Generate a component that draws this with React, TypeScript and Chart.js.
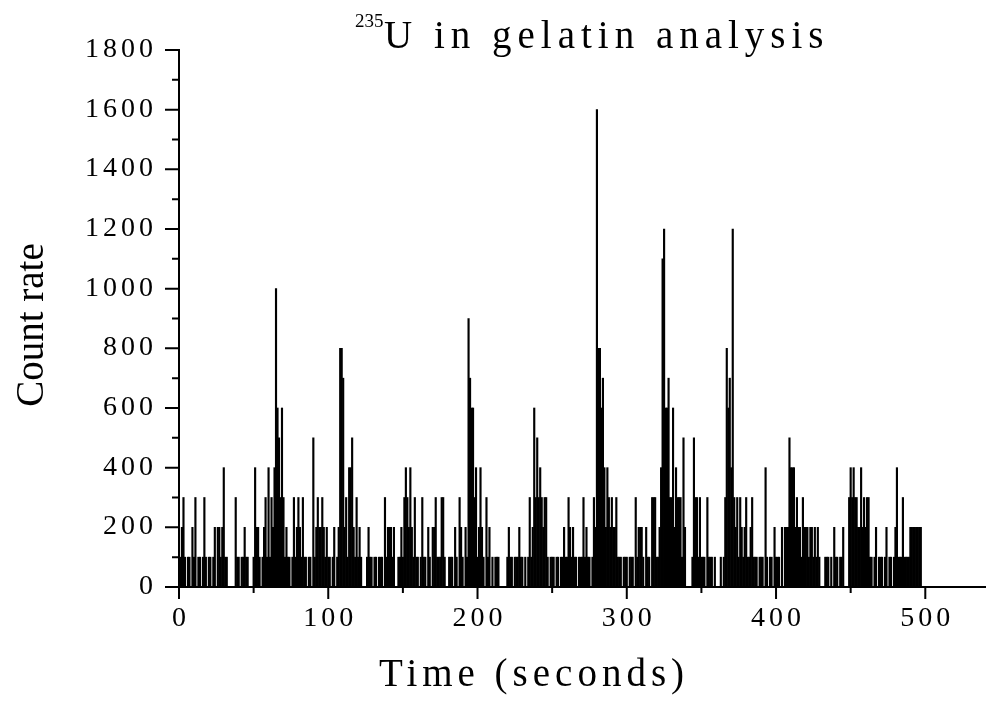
import React, { useEffect, useRef } from 'react';
import { Chart, registerables } from 'chart.js';

Chart.register(...registerables);

// Count rate per second, t = 0 .. 99 s
const rate000 = [
  200, 100, 200, 300, 100, 0, 100, 100, 0, 200,
  100, 300, 0, 100, 100, 0, 100, 300, 100, 0,
  100, 100, 0, 100, 200, 0, 200, 200, 100, 200,
  400, 100, 100, 0, 0, 0, 0, 0, 300, 100,
  100, 0, 100, 100, 200, 100, 100, 0, 0, 0,
  100, 400, 200, 200, 100, 0, 100, 200, 300, 100,
  400, 100, 300, 200, 400, 1000, 600, 500, 300, 600,
  300, 100, 200, 100, 100, 0, 100, 300, 100, 200,
  300, 200, 100, 300, 100, 100, 0, 100, 100, 0,
  500, 100, 200, 300, 200, 200, 300, 200, 100, 200,
];
// t = 100 .. 199 s
const rate100 = [
  100, 100, 0, 100, 200, 0, 100, 200, 800, 800,
  700, 200, 300, 100, 400, 400, 500, 200, 100, 300,
  100, 200, 100, 0, 0, 0, 100, 200, 100, 100,
  0, 100, 100, 0, 100, 100, 100, 0, 300, 100,
  200, 200, 200, 100, 200, 0, 0, 100, 100, 200,
  100, 300, 400, 300, 200, 400, 200, 100, 300, 100,
  100, 0, 100, 300, 100, 100, 0, 200, 100, 0,
  200, 200, 300, 100, 100, 100, 300, 300, 100, 0,
  0, 100, 100, 100, 0, 200, 100, 0, 300, 200,
  100, 0, 200, 100, 900, 700, 600, 600, 300, 400,
];
// t = 200 .. 299 s
const rate200 = [
  100, 200, 400, 200, 100, 0, 300, 100, 200, 0,
  100, 0, 100, 100, 100, 0, 0, 0, 0, 0,
  100, 200, 100, 100, 0, 100, 100, 100, 200, 100,
  100, 0, 100, 0, 100, 300, 100, 200, 600, 300,
  500, 300, 400, 300, 200, 300, 300, 100, 0, 100,
  100, 100, 0, 100, 100, 0, 100, 100, 200, 100,
  100, 300, 200, 100, 200, 100, 100, 0, 100, 100,
  100, 300, 100, 200, 100, 100, 0, 100, 300, 200,
  1600, 800, 800, 600, 700, 400, 200, 400, 300, 200,
  300, 200, 200, 300, 100, 100, 100, 0, 100, 100,
];
// t = 300 .. 399 s
const rate300 = [
  100, 0, 100, 100, 100, 0, 300, 100, 200, 200,
  200, 100, 0, 200, 100, 100, 0, 300, 300, 300,
  100, 100, 200, 400, 1100, 1200, 600, 600, 700, 300,
  300, 600, 200, 400, 300, 300, 300, 100, 500, 200,
  0, 0, 0, 0, 100, 500, 300, 300, 100, 300,
  100, 100, 100, 0, 300, 100, 100, 100, 0, 100,
  0, 0, 0, 100, 0, 100, 300, 800, 600, 700,
  400, 1200, 300, 200, 300, 100, 300, 200, 100, 200,
  300, 100, 100, 200, 300, 100, 100, 100, 0, 100,
  100, 100, 0, 400, 100, 0, 100, 100, 0, 200,
];
// t = 400 .. 499 s
const rate400 = [
  100, 100, 100, 0, 200, 0, 200, 200, 200, 500,
  400, 400, 400, 200, 300, 200, 200, 100, 300, 200,
  200, 200, 100, 200, 200, 100, 200, 100, 200, 100,
  0, 0, 0, 100, 100, 100, 0, 100, 0, 200,
  100, 100, 0, 100, 100, 200, 0, 0, 0, 300,
  400, 300, 400, 300, 300, 200, 200, 400, 200, 300,
  200, 300, 300, 100, 100, 0, 100, 200, 0, 100,
  100, 100, 0, 100, 200, 0, 100, 100, 0, 100,
  200, 400, 100, 100, 100, 300, 100, 100, 100, 100,
  200, 200, 200, 200, 200, 200, 200, 200, 0, 0,
];

const countRate = [...rate000, ...rate100, ...rate200, ...rate300, ...rate400];
const sampleStart = 0; // seconds
const sampleStep = 1; // seconds

const xMajorTicks = [0, 100, 200, 300, 400, 500];
const xMinorTicks = [50, 150, 250, 350, 450];
const yMajorTicks = [0, 200, 400, 600, 800, 1000, 1200, 1400, 1600, 1800];
const yMinorTicks = [100, 300, 500, 700, 900, 1100, 1300, 1500, 1700];

const titleSup = '235';
const titleMain = 'U in gelatin analysis';
const xTitle = 'Time (seconds)';
const yTitle = 'Count rate';

const FONT = '"Liberation Serif", "Times New Roman", serif';

const decorPlugin = {
  id: 'decor',
  afterDraw(chart: any) {
    const { ctx, chartArea } = chart;
    const xs = chart.scales.x;
    const ys = chart.scales.y;
    ctx.save();
    ctx.strokeStyle = '#000';
    ctx.fillStyle = '#000';
    ctx.lineWidth = 2;
    const bottom = chartArea.bottom;
    const left = chartArea.left;
    ctx.beginPath();
    xMajorTicks.forEach((v) => {
      const px = xs.getPixelForValue(v);
      ctx.moveTo(px, bottom);
      ctx.lineTo(px, bottom + 12);
    });
    xMinorTicks.forEach((v) => {
      const px = xs.getPixelForValue(v);
      ctx.moveTo(px, bottom);
      ctx.lineTo(px, bottom + 6);
    });
    yMajorTicks.forEach((v) => {
      const py = ys.getPixelForValue(v);
      ctx.moveTo(left, py);
      ctx.lineTo(left - 14, py);
    });
    yMinorTicks.forEach((v) => {
      const py = ys.getPixelForValue(v);
      ctx.moveTo(left, py);
      ctx.lineTo(left - 7, py);
    });
    ctx.stroke();

    // tick labels
    const sp = 4;
    ctx.font = `28px ${FONT}`;
    (ctx as any).letterSpacing = `${sp}px`;
    ctx.textBaseline = 'alphabetic';
    ctx.textAlign = 'right';
    yMajorTicks.forEach((v) => {
      const py = ys.getPixelForValue(v);
      ctx.fillText(String(v), 153 + sp, py + 7);
    });
    ctx.textAlign = 'center';
    xMajorTicks.forEach((v) => {
      const px = xs.getPixelForValue(v);
      ctx.fillText(String(v), px + sp / 2, 626);
    });

    // x title
    ctx.font = `39px ${FONT}`;
    (ctx as any).letterSpacing = '5px';
    ctx.textAlign = 'center';
    ctx.fillText(xTitle, 534, 686);

    // title
    ctx.textAlign = 'left';
    (ctx as any).letterSpacing = '6px';
    ctx.font = `39px ${FONT}`;
    ctx.fillText(titleMain, 384, 48);
    (ctx as any).letterSpacing = '0px';
    ctx.font = `19px ${FONT}`;
    ctx.fillText(titleSup, 355, 27);

    // y title
    ctx.font = `39px ${FONT}`;
    ctx.translate(43, 325);
    ctx.rotate(-Math.PI / 2);
    ctx.textAlign = 'center';
    ctx.fillText(yTitle, 0, 0);
    ctx.restore();
  },
};

export default function App() {
  const canvasRef = useRef<HTMLCanvasElement | null>(null);

  useEffect(() => {
    if (!canvasRef.current) return;
    const points = countRate.map((v, i) => ({ x: sampleStart + i * sampleStep, y: v }));
    const chart = new Chart(canvasRef.current, {
      type: 'bar',
      data: {
        datasets: [
          {
            label: 'Count rate',
            data: points as any,
            backgroundColor: '#000',
            borderWidth: 0,
            barPercentage: 1,
            categoryPercentage: 1,
          },
        ],
      },
      options: {
        animation: false,
        responsive: true,
        maintainAspectRatio: false,
        devicePixelRatio: 1,
        layout: { padding: { top: 50, right: 2, left: 0, bottom: 0 } },
        plugins: {
          legend: { display: false },
          tooltip: { enabled: false },
          title: { display: false },
        },
        scales: {
          x: {
            type: 'linear',
            min: 0,
            max: 540,
            offset: false,
            ticks: { display: false },
            grid: { display: false },
            border: { display: true, color: '#000', width: 2 },
            afterFit: (s: any) => {
              s.height = 116;
            },
          },
          y: {
            type: 'linear',
            min: 0,
            max: 1800,
            ticks: { display: false },
            grid: { display: false },
            border: { display: true, color: '#000', width: 2 },
            afterFit: (s: any) => {
              s.width = 179;
            },
          },
        },
      },
      plugins: [decorPlugin],
    });
    return () => chart.destroy();
  }, []);

  return (
    <div style={{ position: 'absolute', left: 0, top: 0, width: 987, height: 703, background: '#fff' }}>
      <canvas ref={canvasRef} />
    </div>
  );
}
